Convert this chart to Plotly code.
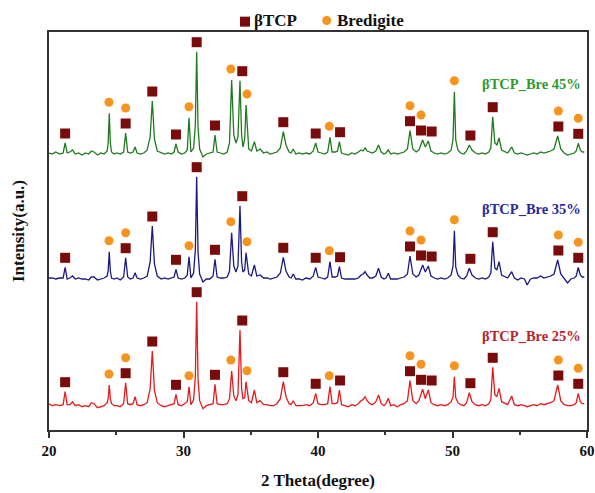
import plotly.graph_objects as go

# ---------------- data ----------------
two_theta = [
    20.00, 20.25, 20.50, 20.80, 21.05, 21.20, 21.35, 21.55, 21.75, 21.95,
    22.20, 22.45, 22.70, 22.95, 23.15, 23.35, 23.60, 23.85, 24.10, 24.32,
    24.40, 24.48, 24.56, 24.65, 24.85, 25.05, 25.30, 25.55, 25.70, 25.85,
    26.05, 26.25, 26.40, 26.55, 26.80, 27.05, 27.30, 27.52, 27.68, 27.84,
    28.05, 28.35, 28.60, 28.85, 29.10, 29.30, 29.44, 29.60, 29.85, 30.10,
    30.28, 30.41, 30.55, 30.75, 30.88, 30.98, 31.08, 31.20, 31.45, 31.70,
    31.95, 32.20, 32.34, 32.50, 32.75, 33.00, 33.25, 33.42, 33.58, 33.74,
    33.90, 34.05, 34.20, 34.32, 34.42, 34.55, 34.65, 34.85, 35.05, 35.27,
    35.45, 35.70, 35.95, 36.20, 36.45, 36.70, 36.95, 37.20, 37.42, 37.62,
    37.85, 38.00, 38.16, 38.35, 38.60, 38.85, 39.10, 39.40, 39.65, 39.83,
    40.00, 40.25, 40.50, 40.72, 40.89, 41.05, 41.30, 41.45, 41.59, 41.75,
    42.00, 42.25, 42.50, 42.75, 43.00, 43.20, 43.35, 43.50, 43.65, 43.85,
    44.05, 44.30, 44.50, 44.70, 44.90, 45.05, 45.23, 45.40, 45.65, 45.90,
    46.15, 46.40, 46.65, 46.84, 47.05, 47.30, 47.50, 47.78, 47.98, 48.20,
    48.40, 48.65, 48.90, 49.15, 49.40, 49.65, 49.90, 50.04, 50.14, 50.24,
    50.40, 50.60, 50.85, 51.05, 51.25, 51.45, 51.70, 51.95, 52.20, 52.45,
    52.70, 52.85, 52.99, 53.15, 53.30, 53.46, 53.65, 53.90, 54.10, 54.40,
    54.60, 54.85, 55.10, 55.35, 55.55, 55.80, 56.05, 56.30, 56.55, 56.80,
    57.05, 57.30, 57.55, 57.82, 58.05, 58.30, 58.55, 58.80, 59.05, 59.20,
    59.35, 59.50, 59.65, 59.80,
]

# intensities above each pattern's own baseline (a.u.)
bre45 = [
    2, 1, 3, 1, 2, 12, 2, 3, 5, 1,
    2, 0, 2, 1, 4, 3, 0, 2, 1, 4,
    12, 41.7, 12, 3, 1, 2, 1, 3, 22, 3,
    2, 3, 8, 2, 1, 2, 5, 18, 54, 16,
    4, 2, 1, 2, 1, 3, 11, 3, 1, 2,
    5, 37.3, 3, 7, 30, 103.3, 28, 6, -2, 1,
    2, 3, 20, 3, 2, 1, 3, 12, 75, 20,
    12, 18, 74.3, 20, 8, 16, 50, 6, 4, 13.3,
    4, 6, 2, 3, 1, 2, 3, 7, 23.3, 10,
    3, 2, 6, 1, 2, 1, 2, 1, 4, 12,
    3, 2, 1, 3, 17.7, 3, 3, 4, 13.3, 2,
    1, 0, 2, 1, 3, 5, 4, 7, 4, 3,
    2, 4, 10, 3, 1, 2, 5, 1, 2, 1,
    2, 3, 6, 24.3, 6, 3, 5, 15, 8, 14,
    4, 2, 1, 2, 1, 2, 5, 16, 63.3, 15,
    5, 2, 1, 4, 10, 5, 2, 1, 2, 1,
    3, 7, 38.3, 12, 10, 17, 5, 3, 2, 8,
    2, 1, 2, 1, 0, 1, 2, 1, 3, 2,
    3, 4, 6, 19, 6, 2, 0, 1, 2, 4,
    11.7, 5, 3, 3,
]

bre35 = [
    2, 2, 1, 2, 2, 12.7, 1, 2, 4, 1,
    2, 1, 1, 0, 3, 3, 0, 1, 2, 4,
    9, 28.3, 9, 2, 1, 2, 0, 3, 22.3, 3,
    1, 2, 7.3, 2, 1, 2, 4, 18, 54, 16,
    4, 1, 2, 1, 2, 3, 10.7, 2, 1, 2,
    5, 23.3, 2, 7, 30, 103.3, 28, 6, -2, 1,
    1, 4, 20.7, 3, 2, 2, 3, 9, 47.3, 14,
    8, 14, 74.3, 18, 8, 10, 27.3, 6, 4, 15,
    4, 5, 2, 2, 1, 2, 3, 7, 22.7, 9,
    3, 2, 6, 1, 1, 0, 2, 1, 4, 12.7,
    3, 2, 1, 3, 18.3, 3, 3, 4, 13.3, 2,
    1, 1, 1, 1, 2, 5, 6, 8.3, 5, 2,
    2, 4, 11.7, 3, 1, 2, 6.7, 1, 1, 1,
    2, 3, 6, 24, 6, 3, 5, 15, 8, 14,
    4, 2, 1, 2, 1, 2, 5, 14, 49.3, 13,
    5, 2, 1, 4, 11.7, 5, 2, 1, 2, 1,
    3, 7, 38.3, 12, 10, 18.3, 5, 3, 2, 8.3,
    2, 0, 2, 1, -5, 1, 2, 2, 4, 2,
    3, 4, 6, 20, 6, 2, -3, 1, 2, 4,
    12.7, 5, 3, 3,
]

bre25 = [
    3, 1, 2, 1, 2, 15, 2, 2, 5, 1,
    2, 0, 1, 0, 4, 3, -1, 0, 1, 4,
    8, 21.7, 8, 3, 1, 1, 0, 3, 24, 3,
    2, 3, 10, 2, 1, 2, 4, 18, 55.7, 16,
    4, 1, 0, 1, 2, 3, 12.4, 2, 1, 3,
    5, 20, 2, 7, 30, 105, 28, 6, -2, 1,
    2, 3, 22.4, 3, 2, 2, 3, 8, 35.7, 11,
    6, 12, 76.7, 18, 8, 9, 25, 6, 4, 16.7,
    4, 6, 2, 2, 1, 1, 3, 8, 25, 10,
    3, 2, 6, 1, 1, 1, 2, 1, 4, 13.4,
    3, 2, 2, 3, 20, 3, 3, 4, 16.7, 2,
    1, 0, 2, 1, 3, 6, 7, 10, 6, 3,
    2, 5, 11.7, 3, 1, 3, 8.4, 1, 2, 0,
    2, 3, 6, 26, 6, 3, 6, 17.4, 8, 16.7,
    4, 2, 1, 2, 1, 2, 5, 10, 30, 9,
    4, 2, 1, 4, 14, 5, 2, 1, 2, 1,
    3, 7, 39.4, 12, 10, 18.4, 5, 3, 2, 10.7,
    2, 1, 2, 1, 0, 1, 2, 1, 3, 2,
    3, 4, 6, 21.7, 6, 2, 1, 1, 2, 4,
    13.4, 5, 3, 3,
]

series_names = ["βTCP_Bre 45%", "βTCP_Bre 35%", "βTCP_Bre 25%"]
series_values = [bre45, bre35, bre25]

# phase identification marks (2θ positions of the symbols)
tcp_marks = [21.2, 25.7, 27.68, 29.44, 30.98, 32.34, 34.37, 37.42, 39.83,
             41.64, 46.84, 47.66, 48.45, 51.33, 52.99, 57.87, 59.35]
bre_marks = [24.46, 25.7, 30.41, 33.52, 34.72, 40.84, 46.84, 47.66, 50.14,
             57.87, 59.35]

x_ticks = [20, 30, 40, 50, 60]

# ---------------- styling ----------------
offsets = [275, 150, 23.3]
line_colors = ["#1f7a1f", "#1a1a80", "#e41a1c"]
label_colors = ["#2e9a2e", "#2a2aa0", "#b8232d"]
sq_color = "#7a0b0b"
circ_color = "#f7941d"
FONT = "Liberation Serif"

fig = go.Figure()


def local_max(xs, ys, x0, win=0.25):
    vals = [y for x, y in zip(xs, ys) if abs(x - x0) <= win + 1e-9]
    return max(vals)


for name, vals, off, lc in zip(series_names, series_values, offsets, line_colors):
    ys = [v + off for v in vals]
    fig.add_trace(go.Scatter(x=two_theta, y=ys, mode="lines", name=name,
                             line=dict(color=lc, width=1.3), showlegend=False))

for vals, off in zip(series_values, offsets):
    ys = [v + off for v in vals]
    sq_y = [local_max(two_theta, ys, m) + 9.5 for m in tcp_marks]
    ci_y = []
    for m in bre_marks:
        base = local_max(two_theta, ys, m)
        ci_y.append(base + (25 if m in tcp_marks else 11))
    fig.add_trace(go.Scatter(x=tcp_marks, y=sq_y, mode="markers", name="βTCP",
                             marker=dict(symbol="square", size=10, color=sq_color),
                             showlegend=False))
    fig.add_trace(go.Scatter(x=bre_marks, y=ci_y, mode="markers", name="Bredigite",
                             marker=dict(symbol="circle", size=9, color=circ_color),
                             showlegend=False))

# sample labels
for name, off, c in zip(series_names, offsets, label_colors):
    fig.add_annotation(x=59.68, y=off + 71, xref="x", yref="y", text=f"<b>{name}</b>",
                       showarrow=False, xanchor="right", yanchor="middle",
                       font=dict(family=FONT, size=14.5, color=c))

# legend (symbols + text) above the frame
fig.add_shape(type="rect", xref="paper", yref="paper", xsizemode="pixel", ysizemode="pixel",
              xanchor=0.3643, yanchor=1.026, x0=-5, x1=5, y0=-5, y1=5,
              fillcolor=sq_color, line=dict(width=0))
fig.add_shape(type="circle", xref="paper", yref="paper", xsizemode="pixel", ysizemode="pixel",
              xanchor=0.5162, yanchor=1.029, x0=-4.5, x1=4.5, y0=-4.5, y1=4.5,
              fillcolor=circ_color, line=dict(width=0))
fig.add_annotation(x=0.3773, y=1.029, xref="paper", yref="paper", text="<b>βTCP</b>",
                   showarrow=False, xanchor="left", yanchor="middle",
                   font=dict(family=FONT, size=17, color="#111"))
fig.add_annotation(x=0.5316, y=1.029, xref="paper", yref="paper", text="<b>Bredigite</b>",
                   showarrow=False, xanchor="left", yanchor="middle",
                   font=dict(family=FONT, size=17, color="#111"))

fig.update_layout(
    width=595, height=493,
    margin=dict(l=49, r=8, t=32, b=63),
    paper_bgcolor="white", plot_bgcolor="white",
    font=dict(family=FONT, color="#111"),
)
fig.update_xaxes(
    range=[20, 60], tickvals=x_ticks, ticktext=[f"<b>{t}</b>" for t in x_ticks],
    tickfont=dict(family=FONT, size=15, color="#111"),
    ticks="outside", ticklen=6, tickwidth=1.5, tickcolor="#333",
    minor=dict(dtick=5, tick0=25, ticks="outside", ticklen=3, tickwidth=1.5, tickcolor="#333"),
    showline=True, linecolor="#333", linewidth=1.5, mirror=True,
    showgrid=False, zeroline=False, automargin=False,
    title=dict(text="<b>2 Theta(degree)</b>", font=dict(family=FONT, size=17, color="#111"),
               standoff=16),
)
fig.update_yaxes(
    range=[0, 398], showticklabels=False, ticks="",
    showline=True, linecolor="#333", linewidth=1.5, mirror=True,
    showgrid=False, zeroline=False, automargin=False,
    title=dict(text="<b>Intensity(a.u.)</b>", font=dict(family=FONT, size=17, color="#111"),
               standoff=18),
)

# remove the browser's default page margin so the 595x493 figure fills the window exactly
fig.write_html("out.html", config={"displayModeBar": False},
               post_script="document.body.style.margin='0';")
